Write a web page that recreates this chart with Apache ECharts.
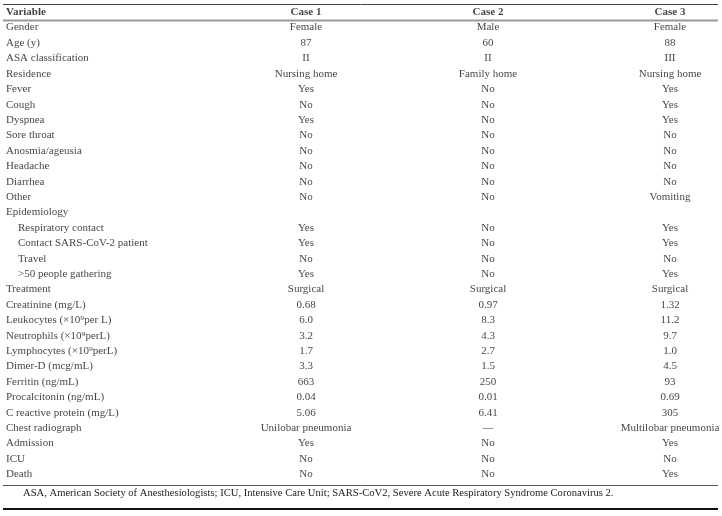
<!DOCTYPE html>
<html>
<head>
<meta charset="utf-8">
<script src="https://cdn.jsdelivr.net/npm/echarts@6/dist/echarts.min.js"></script>
<style>html,body{margin:0;padding:0;background:#fff}#c{width:722px;height:516px}</style>
</head>
<body>
<div id="c"></div>
<script>
const headers = ['Variable', 'Case 1', 'Case 2', 'Case 3'];
const variables = ['Gender','Age (y)','ASA classification','Residence','Fever','Cough','Dyspnea','Sore throat','Anosmia/ageusia','Headache','Diarrhea','Other','Epidemiology','Respiratory contact','Contact SARS-CoV-2 patient','Travel','>50 people gathering','Treatment','Creatinine (mg/L)','Leukocytes (×10⁹per L)','Neutrophils (×10⁹perL)','Lymphocytes (×10⁹perL)','Dimer-D (mcg/mL)','Ferritin (ng/mL)','Procalcitonin (ng/mL)','C reactive protein (mg/L)','Chest radiograph','Admission','ICU','Death'];
const indented = [false,false,false,false,false,false,false,false,false,false,false,false,false,true,true,true,true,false,false,false,false,false,false,false,false,false,false,false,false,false];
const case1 = ['Female','87','II','Nursing home','Yes','No','Yes','No','No','No','No','No','','Yes','Yes','No','Yes','Surgical','0.68','6.0','3.2','1.7','3.3','663','0.04','5.06','Unilobar pneumonia','Yes','No','No'];
const case2 = ['Male','60','II','Family home','No','No','No','No','No','No','No','No','','No','No','No','No','Surgical','0.97','8.3','4.3','2.7','1.5','250','0.01','6.41','—','No','No','No'];
const case3 = ['Female','88','III','Nursing home','Yes','Yes','Yes','No','No','No','No','Vomiting','','Yes','Yes','No','Yes','Surgical','1.32','11.2','9.7','1.0','4.5','93','0.69','305','Multilobar pneumonia','Yes','No','Yes'];
const footnote = 'ASA, American Society of Anesthesiologists; ICU, Intensive Care Unit; SARS-CoV2, Severe Acute Respiratory Syndrome Coronavirus 2.';

const FONT = '"Liberation Serif", "Times New Roman", serif';
const colX = [6, 306, 488, 670];
const indentX = 18;
const rows = ['header'].concat(variables);

const leftData = [], centerData = [];
leftData.push({value: [colX[0], 0], name: headers[0], bold: true});
for (let c = 1; c < 4; c++) centerData.push({value: [colX[c], 0], name: headers[c], bold: true});
const cases = [case1, case2, case3];
variables.forEach((v, i) => {
  leftData.push({value: [indented[i] ? indentX : colX[0], i + 1], name: v});
  cases.forEach((cs, c) => {
    if (cs[i] !== '') centerData.push({value: [colX[c + 1], i + 1], name: cs[i]});
  });
});

function mk(d) {
  return {
    value: d.value,
    label: {formatter: d.name, fontWeight: d.bold ? 'bold' : 'normal'}
  };
}

const chart = echarts.init(document.getElementById('c'), null, {renderer: 'canvas'});
chart.setOption({
  backgroundColor: '#fff',
  animation: false,
  grid: {left: 0, right: 0, top: 4.5, bottom: 34},
  xAxis: {type: 'value', min: 0, max: 722, show: false},
  yAxis: {type: 'category', data: rows, inverse: true, show: false, boundaryGap: true},
  series: [
    {
      type: 'scatter', symbolSize: 0, silent: true,
      data: leftData.map(mk),
      label: {show: true, position: 'right', distance: 0, color: '#111', fontFamily: FONT, fontSize: 11}
    },
    {
      type: 'scatter', symbolSize: 0, silent: true,
      data: centerData.map(mk),
      label: {show: true, position: 'inside', color: '#111', fontFamily: FONT, fontSize: 11}
    }
  ],
  graphic: [
    {type: 'line', shape: {x1: 3, y1: 4.5, x2: 718, y2: 4.5}, style: {stroke: '#444', lineWidth: 1}},
    {type: 'line', shape: {x1: 3, y1: 20.5, x2: 718, y2: 20.5}, style: {stroke: '#999', lineWidth: 2}},
    {type: 'line', shape: {x1: 3, y1: 485.5, x2: 718, y2: 485.5}, style: {stroke: '#555', lineWidth: 1}},
    {type: 'line', shape: {x1: 3, y1: 509, x2: 718, y2: 509}, style: {stroke: '#111', lineWidth: 2}},
    {type: 'text', x: 23, y: 493, style: {text: footnote, font: '10.6px ' + FONT, fill: '#222', verticalAlign: 'middle', align: 'left'}}
  ]
});
</script>
</body>
</html>
